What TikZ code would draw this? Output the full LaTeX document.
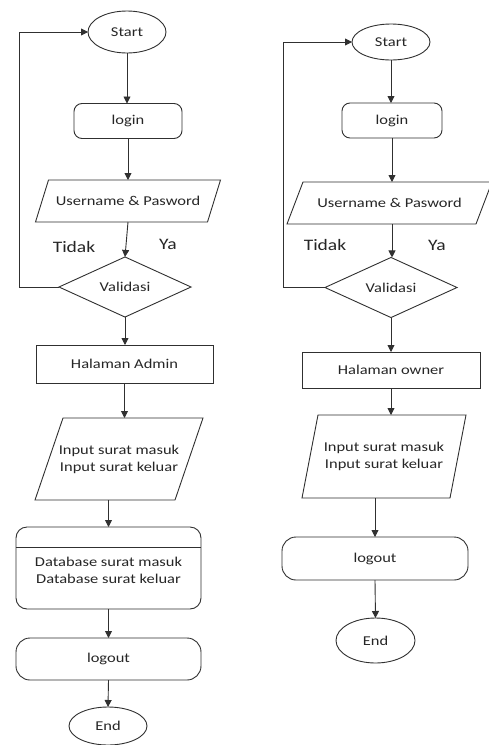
\documentclass[tikz,border=0pt]{standalone}
\usepackage{fontspec}
\setmainfont[FakeStretch=1.22]{Carlito}
\usetikzlibrary{shapes.geometric,arrows.meta}
\definecolor{lncol}{HTML}{303030}
\definecolor{txcol}{HTML}{262626}
\begin{document}
\begin{tikzpicture}[x=1pt,y=-1pt,
  ln/.style={draw=lncol,line width=0.9pt},
  arr/.style={ln,-{Triangle[length=7pt,width=7pt]}},
  base/.style={font=\fontsize{13.5}{17}\selectfont,text=txcol,inner sep=0pt,outer sep=0pt,align=center},
  term/.style={base,ln,ellipse},
  roundbox/.style={base,ln,rectangle,rounded corners=8pt},
  pillbox/.style={base,ln,rectangle,rounded corners=14pt},
  plainbox/.style={base,ln,rectangle},
  paranode/.style={base},
  decision/.style={base,ln,diamond},
  lbl/.style={font=\fontsize{16}{18}\selectfont,text=txcol,inner sep=0pt}
]
\useasboundingbox (0,0) rectangle (489,745);
\fill[white] (0,0) rectangle (489,745);

% ---------------- left flowchart ----------------
\node[term,minimum width=78pt,minimum height=42pt] (s1) at (127,32) {Start};
\node[roundbox,minimum width=108pt,minimum height=35pt] (l1) at (128,121) {login};
\node[paranode,minimum width=172pt,minimum height=42pt] (u1) at (128,201) {Username \& Pasword};
\draw[ln] ([xshift=6.5pt]u1.north west) -- ([xshift=6.5pt]u1.north east) -- ([xshift=-6.5pt]u1.south east) -- ([xshift=-6.5pt]u1.south west) -- cycle;
\node[decision,minimum width=132pt,minimum height=49pt] (v1) at (125,287) {Validasi};
\node[plainbox,minimum width=177pt,minimum height=38pt] (h1) at (124.5,364) {Halaman Admin};
\node[paranode,minimum width=140pt,minimum height=82pt] (i1) at (119,459) {Input surat masuk\\Input surat keluar};
\draw[ln] ([xshift=14pt]i1.north west) -- ([xshift=14pt]i1.north east) -- ([xshift=-14pt]i1.south east) -- ([xshift=-14pt]i1.south west) -- cycle;
\node[roundbox,rounded corners=11pt,minimum width=185pt,minimum height=82pt] (d1) at (108.5,568) {};
\draw[ln] (16,547) -- (201,547);
\node[base] (d1t) at (108.5,570) {Database surat masuk\\Database surat keluar};
\node[pillbox,minimum width=185pt,minimum height=42pt] (o1) at (108.5,659) {logout};
\node[term,minimum width=78pt,minimum height=38pt] (e1) at (108,726) {End};

\node[lbl] (t1) at (74,247) {Tidak};
\node[lbl] (y1) at (168,244) {Ya};

\draw[arr] (s1.south) -- (s1.south |- l1.north);
\draw[arr] (l1.south) -- (l1.south |- u1.north);
\draw[arr] (u1.south) -- (v1.north);
\draw[arr] (v1.south) -- (v1.south |- h1.north);
\draw[arr] (h1.south) -- (h1.south |- i1.north);
\draw[arr] (d1.north |- i1.south) -- (d1.north);
\draw[arr] (d1.south) -- (o1.north);
\draw[arr] (o1.south) -- (e1.north);
\coordinate (c1) at (19,287);
\draw[arr] (v1.west) -- (c1) |- (s1.west);

% ---------------- right flowchart ----------------
\node[term,minimum width=78pt,minimum height=36pt] (s2) at (391,42) {Start};
\node[roundbox,minimum width=100pt,minimum height=35pt] (l2) at (392,120.5) {login};
\node[paranode,minimum width=189pt,minimum height=42pt] (u2) at (389.5,203) {Username \& Pasword};
\draw[ln] ([xshift=8pt]u2.north west) -- ([xshift=8pt]u2.north east) -- ([xshift=-8pt]u2.south east) -- ([xshift=-8pt]u2.south west) -- cycle;
\node[decision,minimum width=132pt,minimum height=49pt] (v2) at (391,287.5) {Validasi};
\node[plainbox,minimum width=178pt,minimum height=36pt] (h2) at (391,370) {Halaman owner};
\node[paranode,minimum width=148pt,minimum height=83pt] (i2) at (384,456.5) {Input surat masuk\\Input surat keluar};
\draw[ln] ([xshift=8pt]i2.north west) -- ([xshift=8pt]i2.north east) -- ([xshift=-8pt]i2.south east) -- ([xshift=-8pt]i2.south west) -- cycle;
\node[pillbox,minimum width=186pt,minimum height=43pt] (o2) at (375,558.5) {logout};
\node[term,minimum width=79pt,minimum height=45pt] (e2) at (375.5,640.5) {End};

\node[lbl] (t2) at (325,245) {Tidak};
\node[lbl] (y2) at (437,245) {Ya};

\draw[arr] (s2.south) -- (s2.south |- l2.north);
\draw[arr] (l2.south) -- (l2.south |- u2.north);
\draw[arr] (l2.south |- u2.south) -- (l2.south |- v2.north);
\draw[arr] (v2.south) -- (v2.south |- h2.north);
\draw[arr] (h2.south) -- (h2.south |- i2.north);
\draw[arr] (o2.north |- i2.south) -- (o2.north);
\draw[arr] (o2.south) -- (e2.north);
\coordinate (c2) at (283,287.5);
\draw[arr] (v2.west) -- (c2) |- (s2.west);
\end{tikzpicture}
\end{document}
